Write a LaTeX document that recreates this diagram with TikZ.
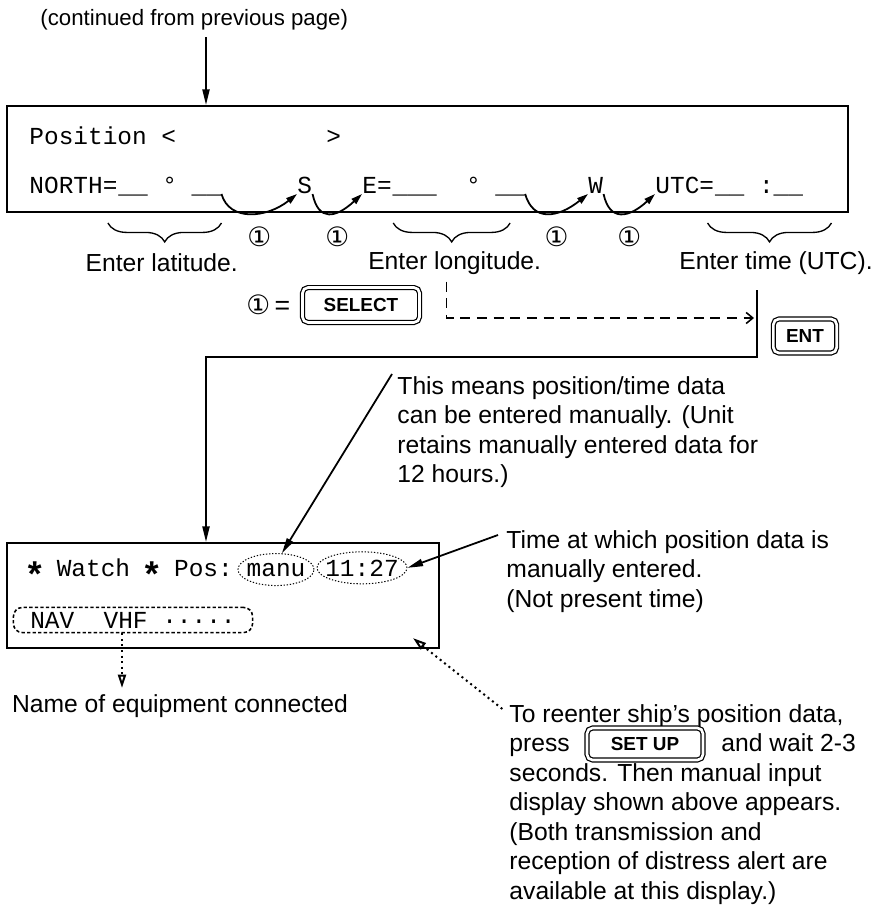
\documentclass[tikz,border=0pt]{standalone}
\usepackage{fontspec}
\setmainfont{Liberation Sans}
\setmonofont{Liberation Mono}
\newfontfamily\symfont{DejaVu Sans}
\usepackage{tikz}
\usetikzlibrary{positioning,arrows.meta,calc,decorations.pathreplacing,shapes.geometric}
\newcommand{\onekey}{{\symfont ①}}
\newcommand{\lcdstar}{\raisebox{-5pt}{\makebox[6.6pt]{\fontsize{16}{16}\selectfont\bfseries *}}}
\tikzset{
  lcd/.style    = {draw, line width=0.9pt, inner sep=0pt, anchor=north west},
  mono/.style   = {font=\ttfamily\fontsize{11}{13}\selectfont},
  lcdtxt/.style = {mono, inner sep=0pt, anchor=base west},
  txt/.style    = {font=\fontsize{11.1}{13.3}\selectfont, inner sep=0pt, align=left},
  keycap/.style = {draw, double, double distance=1.2pt, line width=0.55pt, rounded corners=2.5pt,
                   font=\bfseries\fontsize{8.5}{10}\selectfont, inner sep=0pt},
  onelbl/.style = {font=\fontsize{12}{14}\selectfont, inner sep=0pt},
  flow/.style   = {-{Triangle[length=7pt,width=3.2pt]}, line width=0.8pt},
  hop/.style    = {-{Triangle[length=5pt,width=3pt]}, line width=0.8pt},
  brc/.style    = {decorate, decoration={brace, mirror, amplitude=8.5pt}, line width=0.6pt},
  dsh/.style    = {-{Straight Barb[length=3pt,width=5pt]}, line width=0.7pt, dash pattern=on 4.5pt off 3pt},
  hint/.style   = {-{Triangle[open,length=6pt,width=3.6pt]}, line width=0.9pt, dash pattern=on 0.9pt off 1.6pt},
  ovl/.style    = {ellipse, draw, line width=0.45pt, dash pattern=on 0.6pt off 0.8pt, inner xsep=-2.5pt, inner ysep=0pt},
  navbox/.style = {mono, draw, rounded corners=4pt, line width=0.7pt, dash pattern=on 1.5pt off 1pt, inner sep=0pt},
}

\begin{document}
\begin{tikzpicture}[x=0.45pt, y=-0.45pt]
  \useasboundingbox (0,0) rectangle (877,907);

  % ---------------- manual input display ----------------
  \node[txt, font=\fontsize{10}{12}\selectfont, anchor=west] (cont) at (40,20) {(continued from previous page)};
  \coordinate (colx) at (206,0);
  \node[lcd, minimum width=378.5pt, minimum height=47.7pt] (topbox) at (6,105) {};
  \draw[flow] ([yshift=-3pt]cont.south -| colx) -- (topbox.north -| colx);

  \node[lcdtxt] (pos) at (29,145) {Position <};
  \node[lcdtxt] (posr) at (326,145) {>};
  \node[lcdtxt] (nlab) at (29,194) {NORTH=};
  \node[lcdtxt] (latv) at (nlab.base east) {\_\_~°~\_\_};
  \node[lcdtxt] (sS) at (297,194) {S};
  \node[lcdtxt] (elab) at (362,194) {E=};
  \node[lcdtxt] (lonv) at (elab.base east) {\_\_\_~~°~\_\_};
  \node[lcdtxt] (sW) at (588,194) {W};
  \node[lcdtxt] (utc) at (655,194) {UTC=};
  \node[lcdtxt] (utcv) at (utc.base east) {\_\_~:\_\_};

  % SELECT hops between the fields
  \draw[hop] (latv.base east) .. controls +(8,28) and +(-30,24) .. (sS.base west);
  \draw[hop] (sS.base east) .. controls +(6,28) and +(-26,24) .. (elab.base west);
  \draw[hop] (lonv.base east) .. controls +(8,28) and +(-30,24) .. (sW.base west);
  \draw[hop] (sW.base east) .. controls +(6,28) and +(-26,24) .. (utc.base west);
  \node[onelbl] (o1) at ($(latv.base east)!.5!(sS.base west)+(0,43)$) {\onekey};
  \node[onelbl] (o2) at ($(sS.base east)!.5!(elab.base west)+(0,43)$) {\onekey};
  \node[onelbl] (o3) at ($(lonv.base east)!.5!(sW.base west)+(0,43)$) {\onekey};
  \node[onelbl] (o4) at ($(sW.base east)!.5!(utc.base west)+(0,43)$) {\onekey};

  % braces and what to enter
  \draw[brc] ([shift={(-10,29)}]latv.base west) -- ([shift={(0,29)}]latv.base east);
  \draw[brc] ([shift={(1,29)}]lonv.base west) -- ([shift={(-15,29)}]lonv.base east);
  \draw[brc] ([shift={(-7,29)}]utcv.base west) -- ([shift={(28,29)}]utcv.base east);
  \node[txt] (latlbl) at ($(latv.base)+(-8,69)$) {Enter latitude.};
  \node[txt] (lonlbl) at ($(lonv.base)+(-4,69)$) {Enter longitude.};
  \node[txt] (utclbl) at ($(utcv.base)+(17,69)$) {Enter time (UTC).};

  % keys
  \node[keycap, minimum width=52.7pt, minimum height=15.7pt] (selkey) at (361,305) {SELECT};
  \node[onelbl, left=5pt of selkey] (oneeq) {\onekey\,=};
  \node[keycap, minimum width=28.5pt, minimum height=15.3pt] (entkey) at (805,336) {ENT};
  \coordinate (jtop) at (757,290);
  \coordinate (jbot) at (757,357);
  \coordinate (dend) at (754,318);
  \draw[dsh] ([xshift=-3.6pt, yshift=-3pt]lonlbl.south) |- (dend);

  % ---------------- watch display ----------------
  \node[lcd, minimum width=194.4pt, minimum height=47.3pt] (botbox) at (6,542) {};
  \draw[flow] (jtop) -- (jbot) -| (botbox.north -| colx);
  \node[txt, anchor=north west] (means) at (397,376)
       {This means position/time data\\can be entered manually. (Unit\\retains manually entered data for\\12 hours.)};
  \node[lcdtxt] (watch) at (27,576) {\lcdstar~Watch~\lcdstar~Pos:};
  \node[ovl, mono, minimum width=34.2pt, minimum height=14.4pt, anchor=base] (manu) at (276,576) {manu};
  \node[ovl, mono, minimum width=40.5pt, minimum height=14.4pt, anchor=base] (clk) at (362,576) {11:27};
  \node[navbox, minimum width=107.6pt, minimum height=11.3pt] (nav) at (133,620) {NAV~~VHF~·····};
  \draw[flow] ([shift={(-5,-2)}]means.north west) -- (manu.70);

  \coordinate (namept) at (122,688);
  \draw[hint] (nav.south -| namept) -- (namept);
  \node[txt] (namelbl) at (180,706) {Name of equipment connected};

  \node[txt, anchor=north west] (timenote) at (506,530)
       {Time at which position data is\\manually entered.\\(Not present time)};
  \draw[flow] ([shift={(-8,5)}]timenote.north west) -- (clk.east);

  % how to get back here
  \node[txt, anchor=base west] (re1) at (509,722) {To reenter ship’s position data,};
  \node[txt, anchor=base west] (press) at (509,751) {press};
  \node[keycap, minimum width=52.2pt, minimum height=14.4pt] (setkey) at (645,744) {SET UP};
  \node[txt, anchor=base west] (wait) at (721,751) {and wait 2-3};
  \node[txt, anchor=north west] (re3) at (509,763)
       {seconds. Then manual input\\display shown above appears.\\(Both transmission and\\reception of distress alert are\\available at this display.)};
  \draw[hint] ([xshift=-3pt, yshift=3pt]re1.west) -- ([shift={(-27,-11)}]botbox.south east);
\end{tikzpicture}
\end{document}
